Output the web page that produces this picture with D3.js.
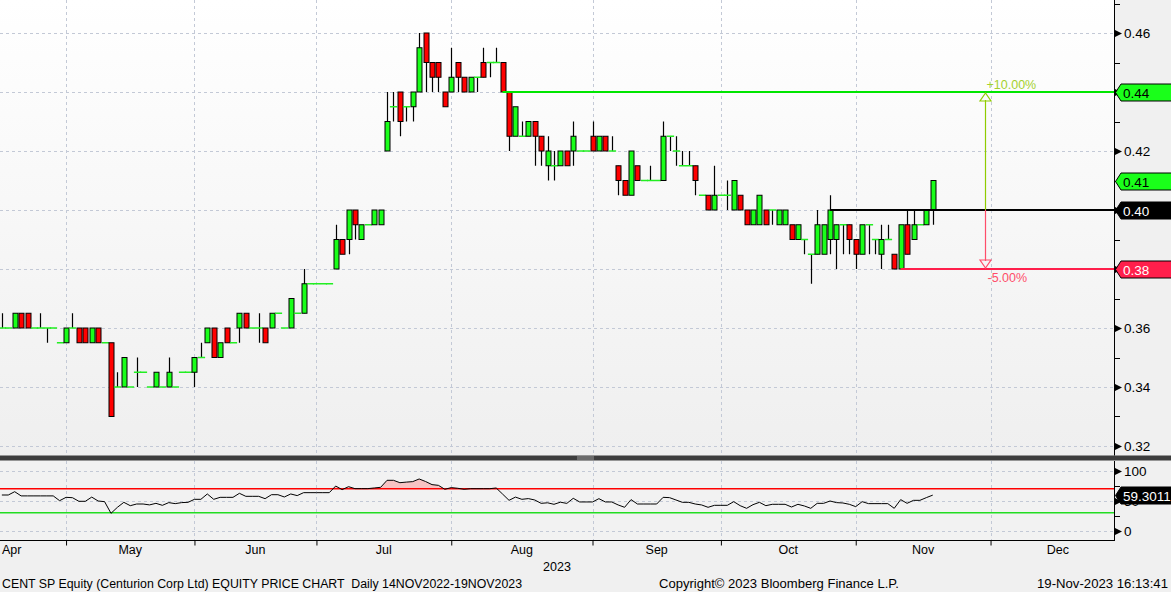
<!DOCTYPE html>
<html><head><meta charset="utf-8">
<script src="https://cdn.jsdelivr.net/npm/d3@7"></script>
<style>
body{margin:0;background:#f0f0f0;}
svg{display:block;font-family:"Liberation Sans",Arial,sans-serif;}
</style></head><body>
<svg id="c" width="1171" height="592"></svg>
<script>
// ---------- data (daily bars, index 0 .. 145) ----------
const opens = [.36,.36,.36,.365,.365,.36,.36,.36,.36,.355,
.355,.36,.36,.36,.355,.36,.355,.355,.34,.34,
.34,.345,.345,.34,.34,.34,.34,.34,.345,.345,
.345,.35,.355,.36,.35,.36,.355,.36,.365,.36,
.36,.36,.36,.365,.36,.36,.365,.365,.375,.375,
.375,.375,.38,.39,.39,.40,.39,.395,.395,.395,
.42,.435,.44,.435,.435,.44,.46,.45,.45,.44,
.44,.45,.445,.44,.445,.45,.45,.45,.45,.44,
.425,.425,.425,.43,.425,.415,.415,.415,.42,.42,
.42,.42,.425,.42,.425,.42,.415,.41,.405,.415,
.41,.41,.41,.41,.425,.42,.415,.415,.415,.405,
.405,.40,.405,.405,.40,.405,.40,.395,.395,.40,
.40,.395,.395,.395,.39,.39,.385,.385,.385,.39,
.39,.395,.395,.39,.385,.395,.39,.385,.39,.385,
.38,.395,.39,.395,.395,.40];
const highs = [.365,.36,.365,.365,.365,.36,.365,.36,.36,.355,
.36,.365,.36,.36,.36,.36,.355,.355,.345,.35,
.34,.35,.345,.34,.345,.34,.35,.34,.345,.345,
.35,.355,.36,.36,.355,.36,.355,.365,.365,.36,
.365,.36,.365,.365,.36,.37,.365,.38,.375,.375,
.375,.375,.395,.39,.40,.40,.395,.395,.40,.40,
.44,.44,.44,.435,.44,.46,.46,.45,.45,.44,
.455,.45,.445,.445,.445,.455,.45,.455,.45,.44,
.435,.43,.43,.43,.425,.425,.42,.42,.42,.43,
.42,.42,.43,.425,.425,.425,.415,.41,.42,.415,
.41,.415,.41,.43,.425,.425,.42,.42,.415,.405,
.405,.415,.405,.41,.41,.405,.40,.40,.405,.40,
.40,.40,.40,.395,.395,.39,.385,.40,.395,.405,
.395,.395,.395,.39,.395,.395,.39,.395,.395,.385,
.395,.40,.40,.395,.40,.41];
const lows = [.36,.36,.36,.36,.36,.36,.36,.355,.36,.355,
.355,.36,.355,.355,.355,.355,.355,.33,.34,.34,
.34,.34,.345,.34,.34,.34,.34,.34,.345,.345,
.34,.35,.355,.35,.35,.355,.355,.355,.36,.36,
.355,.355,.36,.365,.36,.36,.365,.365,.375,.375,
.375,.375,.38,.385,.385,.39,.39,.395,.395,.395,
.42,.43,.425,.43,.43,.44,.44,.44,.44,.435,
.44,.44,.44,.44,.44,.445,.445,.45,.44,.42,
.425,.425,.425,.415,.415,.41,.41,.415,.415,.415,
.42,.42,.42,.42,.42,.42,.405,.405,.405,.41,
.41,.41,.41,.41,.42,.415,.415,.415,.405,.405,
.40,.40,.405,.40,.40,.40,.395,.395,.395,.395,
.395,.395,.395,.39,.39,.385,.375,.385,.385,.385,
.38,.385,.385,.38,.385,.385,.385,.38,.39,.38,
.38,.385,.39,.395,.395,.395];
const closes = [.36,.36,.365,.36,.36,.36,.36,.36,.36,.355,
.36,.36,.355,.355,.36,.355,.355,.33,.34,.35,
.34,.345,.345,.34,.345,.34,.345,.34,.345,.345,
.35,.35,.36,.35,.355,.355,.355,.365,.36,.36,
.36,.355,.365,.365,.36,.37,.365,.375,.375,.375,
.375,.375,.39,.385,.40,.395,.395,.395,.40,.40,
.43,.435,.43,.435,.44,.455,.45,.445,.445,.435,
.445,.445,.44,.445,.445,.445,.45,.45,.44,.425,
.435,.425,.43,.425,.42,.42,.415,.42,.415,.425,
.42,.42,.42,.425,.42,.42,.41,.405,.42,.41,
.41,.41,.41,.425,.425,.42,.415,.415,.41,.405,
.40,.405,.405,.405,.41,.40,.395,.40,.405,.395,
.40,.40,.40,.39,.395,.39,.385,.395,.395,.40,
.395,.395,.39,.385,.395,.395,.39,.39,.39,.38,
.395,.385,.395,.395,.40,.41];
const rsi = [59.5,59.5,65,58,58,58,58,58,58,50,
55.6,55,49,49,56,49.5,48.4,29,39,47.3,
41.7,44.5,44.5,43,45.6,42.3,46.8,45.1,46.8,47.3,
52.3,52.3,61.2,52.3,55.6,55.6,55.6,62.3,57.3,57.3,
57.3,53.4,60,60,56.2,61.2,58.5,63.4,63.4,63.4,
63.4,63.4,74.5,68.4,73.4,70.1,70.1,70.1,71.2,72.3,
84,84,80,81,81.8,86.2,82,76.8,75.6,69,
71.8,70.7,69,70,70,70,70,71.2,61,50.6,
56,52.3,53.5,51.2,45.6,46.5,44,47.5,45.5,54,
47.9,47.9,47.9,53.4,47.9,47.9,42.9,39,51.8,44.5,
44.5,44.5,44.5,55.6,55.1,51.2,47.3,47.3,44.5,42.9,
39,42.3,42.3,42.3,48.4,41.7,37.3,43.4,47.3,41.7,
44,44,44,39.5,44,41.2,37.3,45.6,45.6,49.5,
46.8,46.2,44,40.1,48.4,45.1,45.1,45.1,45.1,37.3,
51.8,45.6,50.6,50.6,55.1,59.3011];

const monthTickIdx = [10,30,49,70,92,112,133,154];
const monthLabels = ["Apr","May","Jun","Jul","Aug","Sep","Oct","Nov","Dec"];
const yearLabel = "2023";
const priceTicks = [0.32,0.34,0.36,0.38,0.40,0.42,0.44,0.46];
const priceMinor = [0.33,0.35,0.37,0.39,0.41,0.43,0.45,0.47];
const rsiTicks = [0,50,100];
const rsiMinor = [25,75];
const rsiOver = 70, rsiUnder = 30;
const trendStart = [78,129,140];
const trendPrice = [0.44,0.40,0.38];
const trendColor = ["#00e600","#000000","#ff1f4b"];
const tagValues = [0.44,0.41,0.40,0.38];
const tagLabels = ["0.44","0.41","0.40","0.38"];
const tagFill = ["#1aff1a","#1aff1a","#000000","#ff1f4b"];
const tagText = ["#000","#000","#fff","#fff"];
const arrowIdx = 153.1;
const arrowBase = 0.40, arrowUp = 0.44, arrowDown = 0.38;
const arrowUpLabel = "+10.00%", arrowDownLabel = "-5.00%";
const rsiLastLabel = "59.3011";

// ---------- layout ----------
const W = 1171, H = 592;
const plotR = 1114;
const svg = d3.select("#c");
const x = d3.scaleLinear().domain([0,145]).range([1.86, 1.86+145*6.42]);
const y = d3.scaleLinear().domain([0.32,0.46]).range([446,33]);
const yr = d3.scaleLinear().domain([0,100]).range([530.7,470.7]);
const mainTop = 0, mainBot = 455.5, rsiTop = 461, rsiBot = 540;

const defs = svg.append("defs");
const gr = defs.append("linearGradient").attr("id","bg").attr("x1",0).attr("y1",0).attr("x2",0).attr("y2",1);
gr.append("stop").attr("offset","0").attr("stop-color","#ffffff");
gr.append("stop").attr("offset","1").attr("stop-color","#efefef");
defs.append("clipPath").attr("id","cm").append("rect").attr("x",0).attr("y",mainTop).attr("width",plotR).attr("height",mainBot-mainTop);
defs.append("clipPath").attr("id","cr").append("rect").attr("x",0).attr("y",rsiTop).attr("width",plotR).attr("height",rsiBot-rsiTop);
defs.append("clipPath").attr("id","over").append("rect").attr("x",0).attr("y",rsiTop).attr("width",plotR).attr("height",yr(rsiOver)-rsiTop);
defs.append("clipPath").attr("id","under").append("rect").attr("x",0).attr("y",yr(rsiUnder)).attr("width",plotR).attr("height",rsiBot-yr(rsiUnder));

svg.append("rect").attr("width",W).attr("height",H).attr("fill","#f0f0f0");
svg.append("rect").attr("x",0).attr("y",mainTop).attr("width",plotR).attr("height",mainBot-mainTop).attr("fill","url(#bg)");
svg.append("rect").attr("x",0).attr("y",rsiTop).attr("width",plotR).attr("height",rsiBot-rsiTop).attr("fill","#f2f2f2");

const gridCol = "#c3c9d6";
// grids main
const gm = svg.append("g").attr("clip-path","url(#cm)");
gm.selectAll("line.h").data(priceTicks).join("line")
  .attr("x1",0).attr("x2",plotR).attr("y1",d=>Math.round(y(d))+0.5).attr("y2",d=>Math.round(y(d))+0.5)
  .attr("stroke",gridCol).attr("stroke-dasharray","3,3");
gm.selectAll("line.v").data(monthTickIdx).join("line")
  .attr("x1",d=>Math.round(x(d))+0.5).attr("x2",d=>Math.round(x(d))+0.5).attr("y1",mainTop).attr("y2",mainBot)
  .attr("stroke",gridCol).attr("stroke-dasharray","3,3");
// grids rsi
const gq = svg.append("g").attr("clip-path","url(#cr)");
gq.selectAll("line.h").data(rsiTicks).join("line")
  .attr("x1",0).attr("x2",plotR).attr("y1",d=>Math.round(yr(d))+0.5).attr("y2",d=>Math.round(yr(d))+0.5)
  .attr("stroke",gridCol).attr("stroke-dasharray","3,3");
gq.selectAll("line.v").data(monthTickIdx).join("line")
  .attr("x1",d=>Math.round(x(d))+0.5).attr("x2",d=>Math.round(x(d))+0.5).attr("y1",rsiTop).attr("y2",rsiBot)
  .attr("stroke",gridCol).attr("stroke-dasharray","3,3");

// ---------- candles ----------
const bars = opens.map((o,i)=>({i,o,h:highs[i],l:lows[i],c:closes[i]}));
const gc = svg.append("g").attr("clip-path","url(#cm)");
bars.forEach(d=>{
  const cx = Math.round(x(d.i))+0.5;
  const top = Math.max(d.o,d.c), bot = Math.min(d.o,d.c);
  if (d.h>top || d.l<bot) {
    gc.append("line").attr("x1",cx).attr("x2",cx).attr("y1",y(d.h)).attr("y2",y(d.l))
      .attr("stroke","#000").attr("stroke-width",1.2);
  }
});
bars.forEach(d=>{
  const cx = Math.round(x(d.i))+0.5;
  if (d.o===d.c) {
    gc.append("line").attr("x1",cx-3.6).attr("x2",cx+3.6).attr("y1",y(d.o)).attr("y2",y(d.o))
      .attr("stroke","#22ee22").attr("stroke-width",1.5);
  } else {
    const yt = y(Math.max(d.o,d.c)), yb = y(Math.min(d.o,d.c));
    gc.append("rect").attr("x",cx-2.5).attr("y",yt).attr("width",5).attr("height",yb-yt)
      .attr("fill", d.c>d.o ? "#1aff1a" : "#ff0000").attr("stroke","#000").attr("stroke-width",1);
  }
});

// ---------- trend lines & arrow ----------
trendPrice.forEach((p,k)=>{
  svg.append("line").attr("x1",x(trendStart[k])).attr("x2",plotR).attr("y1",y(p)).attr("y2",y(p))
    .attr("stroke",trendColor[k]).attr("stroke-width",2);
});
const ax = Math.round(x(arrowIdx))+0.5;
svg.append("line").attr("x1",ax).attr("x2",ax).attr("y1",y(arrowUp)+8).attr("y2",y(arrowBase))
  .attr("stroke","#8fcc00").attr("stroke-width",1.2);
svg.append("line").attr("x1",ax).attr("x2",ax).attr("y1",y(arrowBase)).attr("y2",y(arrowDown)-8)
  .attr("stroke","#ff4d6a").attr("stroke-width",1.2);
const yu = y(arrowUp), yd = y(arrowDown);
svg.append("path").attr("d",`M${ax},${yu+1}L${ax-5.5},${yu+9}L${ax+5.5},${yu+9}Z`)
  .attr("fill","none").attr("stroke","#8fcc00").attr("stroke-width",1.2);
svg.append("path").attr("d",`M${ax},${yd-1}L${ax-5.5},${yd-9}L${ax+5.5},${yd-9}Z`)
  .attr("fill","none").attr("stroke","#ff4d6a").attr("stroke-width",1.2);
svg.append("text").attr("x",ax+1).attr("y",yu-3).attr("font-size",12.5).attr("fill","#a4d12e").text(arrowUpLabel);
svg.append("text").attr("x",ax+2).attr("y",yd+13).attr("font-size",12.5).attr("fill","#ff4d6a").text(arrowDownLabel);

// ---------- RSI ----------
const line = d3.line().x((d,i)=>x(i)).y(d=>yr(d));
const areaOver = d3.area().x((d,i)=>x(i)).y0(yr(rsiOver)).y1(d=>yr(d));
const areaUnder = d3.area().x((d,i)=>x(i)).y0(yr(rsiUnder)).y1(d=>yr(d));
svg.append("path").attr("d",areaOver(rsi)).attr("fill","#f7c3c3").attr("clip-path","url(#over)");
svg.append("path").attr("d",areaUnder(rsi)).attr("fill","#c3f7c3").attr("clip-path","url(#under)");
svg.append("line").attr("x1",0).attr("x2",plotR).attr("y1",yr(rsiOver)).attr("y2",yr(rsiOver)).attr("stroke","#ff0000").attr("stroke-width",1.5);
svg.append("line").attr("x1",0).attr("x2",plotR).attr("y1",yr(rsiUnder)).attr("y2",yr(rsiUnder)).attr("stroke","#22dd22").attr("stroke-width",1.5);
svg.append("path").attr("d",line(rsi)).attr("fill","none").attr("stroke","#000").attr("stroke-width",1);

// ---------- separator ----------
svg.append("rect").attr("x",0).attr("y",455.5).attr("width",W).attr("height",5).attr("fill","#3d3d3d");
svg.append("line").attr("x1",577).attr("x2",594).attr("y1",457).attr("y2",457).attr("stroke","#9a9a9a");
svg.append("line").attr("x1",577).attr("x2",594).attr("y1",459).attr("y2",459).attr("stroke","#9a9a9a");

// ---------- axes ----------
const axisR = svg.append("g");
axisR.append("line").attr("x1",plotR+0.5).attr("x2",plotR+0.5).attr("y1",0).attr("y2",mainBot).attr("stroke","#000");
axisR.append("line").attr("x1",plotR+0.5).attr("x2",plotR+0.5).attr("y1",rsiTop).attr("y2",rsiBot+0.5).attr("stroke","#000");
function majorTicks(vals, sc, fmt){
  vals.forEach(v=>{
    const yy = Math.round(sc(v))+0.5;
    axisR.append("path").attr("d",`M${plotR+1},${yy-3.5}L${plotR+8},${yy}L${plotR+1},${yy+3.5}Z`).attr("fill","#000");
    axisR.append("text").attr("x",plotR+10).attr("y",yy+4.5).attr("font-size",13.5).attr("fill","#000").text(fmt(v));
  });
}
function minorTicks(vals, sc){
  vals.forEach(v=>{
    const yy = Math.round(sc(v))+0.5;
    axisR.append("line").attr("x1",plotR+1).attr("x2",plotR+6).attr("y1",yy).attr("y2",yy).attr("stroke","#000");
  });
}
majorTicks(priceTicks, y, d3.format(".2f"));
minorTicks(priceMinor, y);
majorTicks(rsiTicks, yr, d3.format("d"));
minorTicks(rsiMinor, yr);

// bottom axis
const xAxis = d3.axisBottom(x).tickValues(monthTickIdx).tickSize(5).tickFormat("");
const gx = svg.append("g").attr("transform",`translate(0,${rsiBot+0.5})`).call(xAxis);
gx.select(".domain").attr("d",`M0,0H${plotR+1}`).attr("stroke","#000");
gx.selectAll(".tick line").attr("stroke","#000");
const bounds = [monthTickIdx[0]-21].concat(monthTickIdx).concat([monthTickIdx[monthTickIdx.length-1]+21]);
monthLabels.forEach((m,k)=>{
  let mx = (x(bounds[k])+x(bounds[k+1]))/2;
  let anchor = "middle";
  if (mx < 14) { mx = 2; anchor = "start"; }
  svg.append("text").attr("x",mx).attr("y",554).attr("text-anchor",anchor).attr("font-size",12.5).attr("fill","#000").text(m);
});
svg.append("text").attr("x",plotR/2).attr("y",571).attr("text-anchor","middle").attr("font-size",12.5).attr("fill","#000").text(yearLabel);

// ---------- tags ----------
function tag(yy, label, fill, tcol){
  const h = 8.5;
  svg.append("path").attr("d",`M${plotR+1.5},${yy}L${plotR+7},${yy-h}L${W+2},${yy-h}L${W+2},${yy+h}L${plotR+7},${yy+h}Z`)
    .attr("fill",fill).attr("stroke","#000").attr("stroke-width",1);
  svg.append("text").attr("x",plotR+9).attr("y",yy+5).attr("font-size",13.5).attr("fill",tcol).text(label);
}
tagValues.forEach((v,k)=>tag(Math.round(y(v))+0.5, tagLabels[k], tagFill[k], tagText[k]));
tag(Math.round(yr(rsi[rsi.length-1]))+0.5, rsiLastLabel, "#000", "#fff");

// ---------- footer ----------
svg.append("text").attr("x",2).attr("y",588).attr("font-size",12.5).style("white-space","pre")
  .attr("textLength",520).attr("lengthAdjust","spacingAndGlyphs")
  .text("CENT SP Equity (Centurion Corp Ltd) EQUITY PRICE CHART  Daily 14NOV2022-19NOV2023");
svg.append("text").attr("x",659).attr("y",588).attr("font-size",12.5)
  .attr("textLength",240).attr("lengthAdjust","spacingAndGlyphs").text("Copyright\u00a9 2023 Bloomberg Finance L.P.");
svg.append("text").attr("x",1037).attr("y",588).attr("font-size",12.5)
  .attr("textLength",131).attr("lengthAdjust","spacingAndGlyphs").text("19-Nov-2023 16:13:41");
</script>
</body></html>
